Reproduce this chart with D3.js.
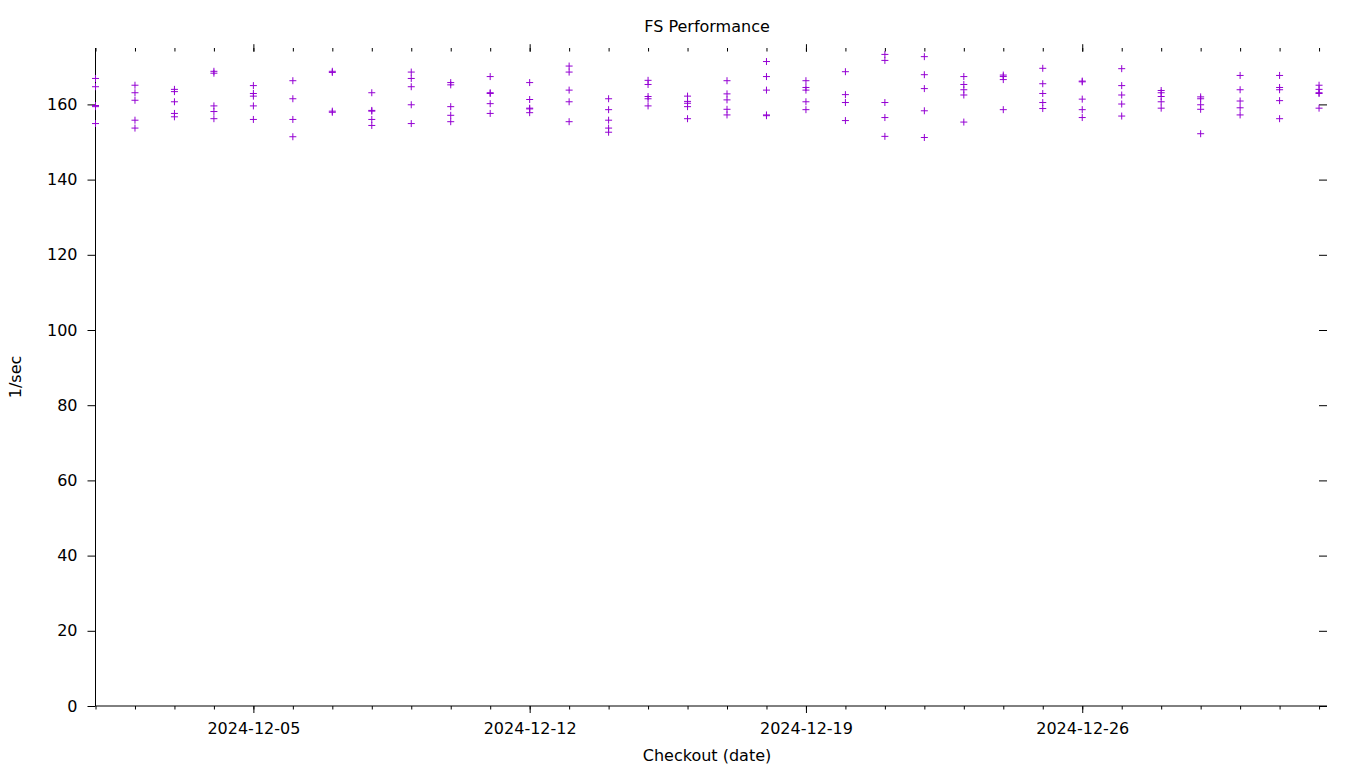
<!DOCTYPE html>
<html>
<head>
<meta charset="utf-8">
<script src="https://cdn.jsdelivr.net/npm/d3@7"></script>
<style>
  html, body { margin: 0; padding: 0; background: #fff; }
  svg { display: block; font-family: "DejaVu Sans", sans-serif; }
</style>
</head>
<body>
<svg id="chart" width="1360" height="768"></svg>
<script>
// ---- data ----
const title = "FS Performance";
const xLabel = "Checkout (date)";
const yLabel = "1/sec";
const dates = [
  "2024-12-01","2024-12-02","2024-12-03","2024-12-04","2024-12-05","2024-12-06","2024-12-07","2024-12-08",
  "2024-12-09","2024-12-10","2024-12-11","2024-12-12","2024-12-13","2024-12-14","2024-12-15","2024-12-16",
  "2024-12-17","2024-12-18","2024-12-19","2024-12-20","2024-12-21","2024-12-22","2024-12-23","2024-12-24",
  "2024-12-25","2024-12-26","2024-12-27","2024-12-28","2024-12-29","2024-12-30","2024-12-31","2025-01-01"
];
const runs = [
  [166.9, 164.7, 159.7, 159.4, 154.9],
  [165.1, 163.1, 161.1, 155.8, 153.7],
  [164.0, 163.4, 160.7, 157.6, 156.7],
  [168.8, 168.3, 159.6, 158.1, 156.2],
  [165.0, 162.9, 162.2, 159.6, 156.0],
  [166.3, 161.5, 156.0, 151.4],
  [168.8, 168.5, 158.2, 157.9],
  [163.1, 158.4, 158.2, 156.0, 154.4],
  [168.6, 166.9, 164.7, 159.9, 154.9],
  [165.8, 165.2, 159.4, 157.1, 155.4],
  [167.4, 163.1, 162.9, 160.2, 157.6],
  [165.8, 161.3, 159.0, 158.8, 157.8],
  [170.2, 168.6, 163.8, 160.7, 155.4],
  [161.5, 158.6, 155.8, 153.7, 152.6],
  [166.4, 165.3, 162.1, 161.5, 159.6],
  [162.2, 160.8, 160.3, 159.4, 156.2],
  [166.3, 162.8, 161.2, 158.7, 157.2],
  [171.4, 167.4, 163.8, 157.2, 157.0],
  [166.3, 164.5, 163.8, 160.7, 158.6],
  [168.7, 162.6, 160.5, 155.7],
  [173.3, 171.7, 160.5, 156.5, 151.5],
  [172.7, 167.9, 164.2, 158.3, 151.2],
  [167.4, 165.3, 163.9, 162.5, 155.3],
  [167.8, 167.4, 166.6, 158.6],
  [169.6, 165.5, 162.9, 160.5, 158.9],
  [166.2, 166.0, 161.4, 158.6, 156.5],
  [169.5, 165.0, 162.5, 160.1, 156.9],
  [163.7, 163.1, 162.1, 160.7, 159.0],
  [162.0, 161.5, 159.9, 158.7, 152.2],
  [167.7, 163.9, 160.9, 159.1, 157.2],
  [167.7, 164.5, 163.9, 161.0, 156.2],
  [165.1, 164.0, 163.1, 162.9, 159.0]
];
const yTicks = [0, 20, 40, 60, 80, 100, 120, 140, 160];
const xMajorTicks = ["2024-12-05", "2024-12-12", "2024-12-19", "2024-12-26"];
const yDomain = [0, 175];
const xDomainEnd = "2025-01-01T04:50:00Z";

// ---- layout ----
const plotLeft = 95.5, plotRight = 1327, plotTop = 48, plotBottom = 706;
const color = "#9400d3";
const fontSize = "16px";

const parse = d3.utcParse("%Y-%m-%d");
const points = [];
dates.forEach((d, i) => runs[i].forEach(v => points.push({ date: parse(d), value: v })));

const x = d3.scaleUtc()
  .domain([parse(dates[0]), new Date(xDomainEnd)])
  .range([plotLeft, plotRight]);
const y = d3.scaleLinear().domain(yDomain).range([plotBottom, plotTop]);

const svg = d3.select("#chart");

const minorDays = dates.map(parse);
const majorDays = xMajorTicks.map(parse);
const fmt = d3.utcFormat("%Y-%m-%d");

function styleAxis(g) {
  g.select(".domain").remove();
  g.selectAll(".tick line").attr("stroke", "#000").attr("stroke-width", 1);
  g.selectAll(".tick text").attr("fill", "#000").style("font-size", fontSize).style("font-family", "'DejaVu Sans', sans-serif");
}

// bottom minor ticks (outward)
svg.append("g").attr("transform", `translate(0,${plotBottom})`)
  .call(d3.axisBottom(x).tickValues(minorDays).tickSize(3.5).tickFormat(""))
  .call(styleAxis);
// bottom major ticks with labels
svg.append("g").attr("transform", `translate(0,${plotBottom})`)
  .call(d3.axisBottom(x).tickValues(majorDays).tickSize(7).tickPadding(10).tickFormat(fmt))
  .call(styleAxis);
// top minor ticks (inward)
svg.append("g").attr("transform", `translate(0,${plotTop})`)
  .call(d3.axisTop(x).tickValues(minorDays).tickSize(-3.5).tickFormat(""))
  .call(styleAxis);
// top major ticks
svg.append("g").attr("transform", `translate(0,${plotTop + 3.7})`)
  .call(d3.axisTop(x).tickValues(majorDays).tickSize(7.5).tickFormat(""))
  .call(styleAxis);

// left y axis (outward ticks with labels)
svg.append("g").attr("transform", `translate(${plotLeft},0)`)
  .call(d3.axisLeft(y).tickValues(yTicks).tickSize(8).tickPadding(10))
  .call(styleAxis);
// right y axis (inward ticks)
svg.append("g").attr("transform", `translate(${plotRight},0)`)
  .call(d3.axisRight(y).tickValues(yTicks).tickSize(-8).tickFormat(""))
  .call(styleAxis);

// border lines: left and bottom
svg.append("line").attr("x1", plotLeft).attr("x2", plotLeft).attr("y1", plotTop).attr("y2", plotBottom)
  .attr("stroke", "#000").attr("stroke-width", 1);
svg.append("line").attr("x1", plotLeft).attr("x2", plotRight).attr("y1", plotBottom).attr("y2", plotBottom)
  .attr("stroke", "#000").attr("stroke-width", 1);

// points
svg.append("g").selectAll("path").data(points).join("path")
  .attr("d", d => {
    const px = x(d.date), py = y(d.value);
    return `M${px - 3.5},${py}H${px + 3.5}M${px},${py - 3.5}V${py + 3.5}`;
  })
  .attr("stroke", color).attr("stroke-width", 1).attr("fill", "none");

// titles
svg.append("text").attr("x", 707).attr("y", 32).attr("text-anchor", "middle")
  .style("font-size", fontSize).attr("fill", "#000").text(title);
svg.append("text").attr("x", 707).attr("y", 761).attr("text-anchor", "middle")
  .style("font-size", fontSize).attr("fill", "#000").text(xLabel);
svg.append("text").attr("transform", "translate(15,377) rotate(-90)").attr("text-anchor", "middle")
  .attr("dy", "0.35em").style("font-size", fontSize).attr("fill", "#000").text(yLabel);
</script>
</body>
</html>
